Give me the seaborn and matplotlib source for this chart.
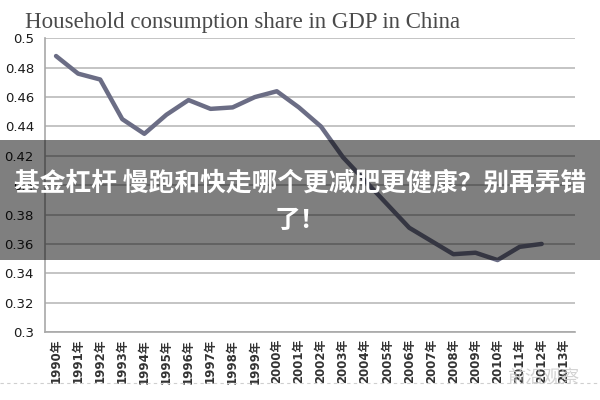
# Household consumption share in GDP in China (line chart with banner overlay)

import matplotlib
matplotlib.use("Agg")
import matplotlib.pyplot as plt
import seaborn as sns
import pandas as pd
from matplotlib.patches import Rectangle
from matplotlib.lines import Line2D
from matplotlib.ticker import FuncFormatter, MultipleLocator

# -----------------------------
# DATA
# -----------------------------
years = list(range(1990, 2013))
share = [0.488, 0.476, 0.472, 0.445, 0.435, 0.448, 0.458, 0.452, 0.453, 0.460,
         0.464, 0.453, 0.440, 0.419, 0.403, 0.387, 0.371, 0.362, 0.353, 0.354,
         0.349, 0.358, 0.360]
tick_years = list(range(1990, 2014))
tick_labels = [f"{y}年" for y in tick_years]

title = "Household consumption share in GDP in China"
banner = "基金杠杆 慢跑和快走哪个更减肥更健康？别再弄错\n了！"
watermark = "前沿观察"

df = pd.DataFrame({"year": years, "share": share})

# -----------------------------
# PLOT
# -----------------------------
sns.set_style("white")
plt.rcParams['font.family'] = ['DejaVu Sans', 'Noto Sans CJK SC']

fig = plt.figure(figsize=(6, 4), dpi=100)
ax = fig.add_axes([0.075, 0.17, 0.883, 0.734])

sns.lineplot(x="year", y="share", data=df, ax=ax, color="#6b6d85", linewidth=3.2, zorder=3)

ax.set_xlim(1989.5, 2013.5)
ax.set_ylim(0.3, 0.5)
ax.yaxis.set_major_locator(MultipleLocator(0.02))
ax.yaxis.set_major_formatter(FuncFormatter(lambda v, p: f"{v:.2f}".rstrip("0")))
ax.grid(axis='y', color="#c4c4c4", linewidth=1.4)
ax.set_axisbelow(True)

ax.set_xticks(tick_years)
ax.set_xticklabels(tick_labels, rotation=90, fontsize=8.5, fontweight='bold', color="#333333")
ax.set_xticks([y + 0.5 for y in [1989] + tick_years], minor=True)
ax.tick_params(axis='x', which='major', length=0, pad=5)
ax.tick_params(axis='x', which='minor', length=4, color="#a8a8a8", width=1.2)
ax.tick_params(axis='y', length=4, color="#a8a8a8", width=1.2, labelsize=9.5, labelcolor="#1a1a1a", pad=4)

for side in ["top", "right"]:
    ax.spines[side].set_visible(False)
for side in ["left", "bottom"]:
    ax.spines[side].set_color("#a8a8a8")
    ax.spines[side].set_linewidth(1.2)

ax.set_xlabel("")
ax.set_ylabel("")

fig.text(0.042, 0.93, title, fontsize=16.5, family="Liberation Serif", color="#4a4a4a")

# -----------------------------
# OVERLAYS
# -----------------------------
fig.patches.append(Rectangle((0, 1 - 259.5 / 400), 1, 120 / 400, transform=fig.transFigure,
                             facecolor="black", alpha=0.5, edgecolor="none", zorder=10))
fig.text(0.5, 1 - 202 / 400, banner, ha='center', va='center', multialignment='center',
         fontsize=18.5, fontweight='bold', color="white", linespacing=1.5,
         family=['Noto Sans CJK SC', 'DejaVu Sans'], zorder=11)

fig.add_artist(Line2D([0, 1], [1 - 383 / 400] * 2, transform=fig.transFigure,
                      color="#cfcfcf", linewidth=0.8, linestyle=(0, (3, 3))))
fig.text(0.905, 1 - 378 / 400, watermark, ha='center', va='center', fontsize=13,
         color="#c8c8c8", alpha=0.8, family=['Noto Sans CJK SC'], zorder=12)

fig.savefig("out.png", dpi=100)
